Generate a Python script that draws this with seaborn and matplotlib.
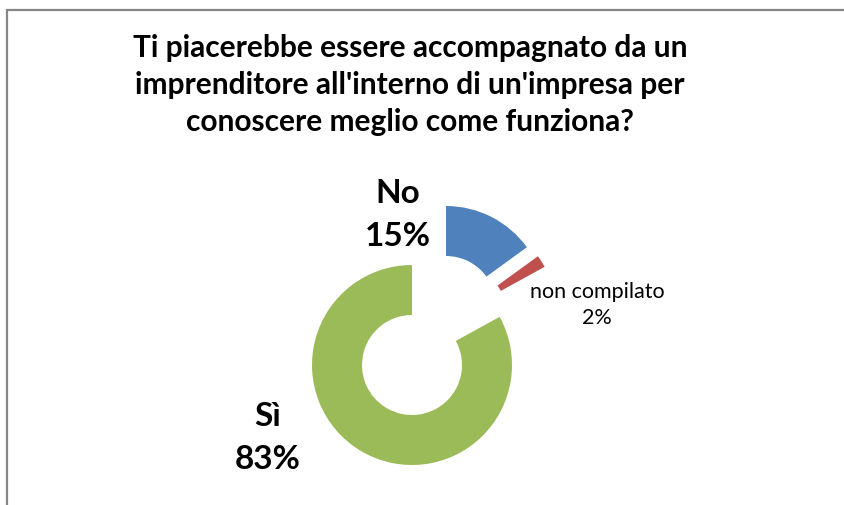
# donut chart of survey answers, exploded slices
import matplotlib
matplotlib.use("AGG")
import matplotlib.pyplot as plt
from matplotlib.lines import Line2D
import seaborn as sns

sns.set_theme(style='white')
plt.rcParams['font.family'] = ['Lato', 'DejaVu Sans']
plt.rcParams['text.color'] = 'black'

title = "Ti piacerebbe essere accompagnato da un\nimprenditore all'interno di un'impresa per\nconoscere meglio come funziona?"
categories = ['No', 'non compilato', 'Sì']
values = [15, 2, 83]
colors = sns.color_palette(['#4F81BD', '#C0504D', '#9BBB59'])
# offset of each exploded slice (in radius units)
shifts = [(0.34, 0.59), (0.45, 0.50), (0, 0)]

fig = plt.figure(figsize=(8.45, 5.05), dpi=100)
ax = fig.add_axes([0, 0, 1, 1])
wedges, _ = ax.pie(values, colors=colors, startangle=90,
                   counterclock=False, radius=1,
                   wedgeprops=dict(width=0.5, linewidth=0))
for w, s in zip(wedges, shifts):
    w.set_center(s)
# 1 data unit = 100 px, pie centre at (412,365) px from top-left
ax.set_xlim(-4.12, 4.33)
ax.set_ylim(-1.40, 3.65)
ax.set_aspect('auto')
ax.axis('off')

ax.text(-0.02, 2.80, title, ha='center', va='center', fontsize=21.5,
        fontweight='bold', linespacing=1.38)

ax.text(-0.14, 1.50, '%s\n%d%%' % (categories[0], values[0]), ha='center',
        va='center', fontsize=24, fontweight='bold', linespacing=1.55)
ax.text(1.85, 0.60, '%s\n%d%%' % (categories[1], values[1]), ha='center',
        va='center', fontsize=15.5, linespacing=1.35)
ax.text(-1.44, -0.73, '%s\n%d%%' % (categories[2], values[2]), ha='center',
        va='center', fontsize=24, fontweight='bold', linespacing=1.55)

# chart border (only top and left visible)
fig.add_artist(Line2D([7.5/845, 7.5/845], [0, 1-9.5/505], color='#868686', lw=1.6, transform=fig.transFigure))
fig.add_artist(Line2D([7.5/845, 1], [1-9.5/505, 1-9.5/505], color='#868686', lw=1.6, transform=fig.transFigure))

plt.savefig('out.png', format='png', dpi=100)
